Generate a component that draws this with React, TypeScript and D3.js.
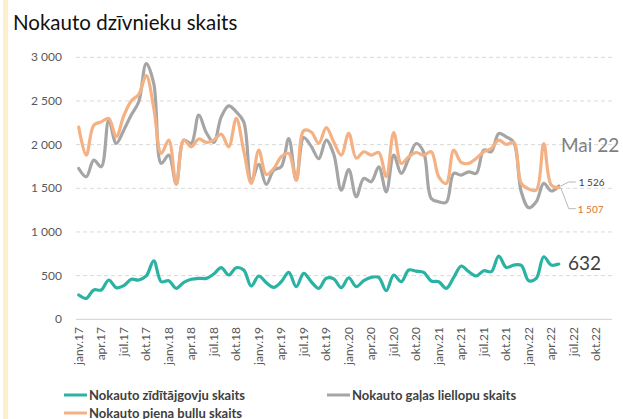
import React, { useEffect, useRef } from 'react';
import * as d3 from 'd3';

// months janv.17 .. dec.22 on the axis, data up to Mai 22
const years = [17, 18, 19, 20, 21, 22];
const monthNames = ['janv.', 'feb.', 'marts', 'apr.', 'maijs', 'jūn.', 'jūl.', 'aug.', 'sept.', 'okt.', 'nov.', 'dec.'];
const yTicks = [0, 500, 1000, 1500, 2000, 2500, 3000];

// Nokauto zīdītājgovju skaits
const sucklerCows = [
  278, 240, 336, 336, 450, 362, 385, 458, 450, 496, 670, 430,
  442, 355, 423, 458, 469, 469, 519, 591, 507, 591, 564, 381,
  496, 420, 366, 430, 537, 374, 526, 430, 355, 470, 462, 362,
  476, 374, 442, 480, 480, 327, 507, 430, 564, 552, 537, 438,
  430, 355, 480, 610, 545, 496, 556, 545, 724, 594, 621, 617,
  442, 469, 716, 621, 632,
];

// Nokauto gaļas liellopu skaits
const beefCattle = [
  1727, 1632, 1823, 1747, 2281, 2014, 2166, 2338, 2491, 2929, 2700, 1785,
  1880, 1548, 2052, 2014, 2337, 2139, 2025, 2318, 2444, 2376, 2261, 1582,
  1773, 1544, 1708, 1746, 2070, 1594, 2080, 1980, 1840, 2052, 1890, 1480,
  1715, 1403, 1613, 1575, 1746, 1460, 1880, 1670, 1842, 2013, 1910, 1384,
  1346, 1340, 1670, 1651, 1689, 1670, 1937, 1918, 2128, 2090, 2025, 1460,
  1277, 1346, 1556, 1469, 1526,
];

// Nokauto piena bullu skaits
const dairyBulls = [
  2200, 1880, 2222, 2261, 2300, 2090, 2330, 2500, 2575, 2790, 2420, 1899,
  2052, 1550, 2052, 1975, 2065, 2025, 2052, 2120, 1975, 2300, 1930, 1556,
  1937, 1659, 1727, 1861, 1899, 1594, 2160, 2145, 2015, 2195, 2030, 1880,
  2130, 1845, 1918, 1880, 1910, 1632, 2139, 1785, 1861, 1910, 1880, 1918,
  1632, 1556, 1937, 1796, 1785, 1842, 1918, 1956, 2052, 2003, 2025, 1556,
  1491, 1480, 2013, 1537, 1507,
];

const months: string[] = [];
years.forEach((y) => monthNames.forEach((m) => months.push(`${m}${y}`)));

const series = [
  { name: 'Nokauto zīdītājgovju skaits', values: sucklerCows, color: '#2ab3a3' },
  { name: 'Nokauto gaļas liellopu skaits', values: beefCattle, color: '#a5a5a5' },
  { name: 'Nokauto piena bullu skaits', values: dairyBulls, color: '#f4b183' },
];

const W = 623;
const H = 419;
const font = 'Lato, "Noto Sans", sans-serif';

const Chart = () => {
  const ref = useRef<SVGSVGElement>(null);

  useEffect(() => {
    const svg = d3.select(ref.current);
    svg.selectAll('*').remove();

    // yellow side stripe
    svg.append('rect').attr('x', 3).attr('y', 0).attr('width', 5).attr('height', H).attr('fill', '#fdf0c9');

    svg.append('text')
      .attr('x', 13).attr('y', 30)
      .attr('font-family', font).attr('font-size', 20.5)
      .attr('fill', '#111')
      .text('Nokauto dzīvnieku skaits');

    const x = d3.scaleBand().domain(months).range([75, 615]);
    const y = d3.scaleLinear().domain([0, 3000]).range([319.3, 57.3]);
    const cx = (m: string) => (x(m) as number) + x.bandwidth() / 2;

    const fmt = d3.formatLocale({ thousands: ' ', grouping: [3], decimal: ',', currency: ['', ''] }).format(',');

    // grid
    svg.append('g')
      .selectAll('line')
      .data(yTicks.filter((t) => t > 0))
      .join('line')
      .attr('x1', 76).attr('x2', 612)
      .attr('y1', (d) => y(d)).attr('y2', (d) => y(d))
      .attr('stroke', '#d9d9d9').attr('stroke-dasharray', '4 3');

    svg.append('line')
      .attr('x1', 76).attr('x2', 612)
      .attr('y1', y(0)).attr('y2', y(0))
      .attr('stroke', '#d9d9d9').attr('stroke-width', 1.2);

    svg.append('g')
      .selectAll('text')
      .data(yTicks)
      .join('text')
      .attr('x', 62).attr('y', (d) => y(d) + 4)
      .attr('text-anchor', 'end')
      .attr('font-family', font).attr('font-size', 12)
      .attr('fill', '#595959')
      .text((d) => fmt(d));

    // x labels every 3 months
    svg.append('g')
      .selectAll('text')
      .data(months.filter((_, i) => i % 3 === 0))
      .join('text')
      .attr('transform', (d) => `translate(${cx(d) + 4},327) rotate(-90)`)
      .attr('text-anchor', 'end')
      .attr('font-family', font).attr('font-size', 12)
      .attr('fill', '#595959')
      .text((d) => d);

    const line = d3.line<number>()
      .x((_, i) => cx(months[i]))
      .y((d) => y(d))
      .curve(d3.curveCatmullRom.alpha(0.5));

    series.forEach((s) => {
      svg.append('path')
        .datum(s.values)
        .attr('d', line)
        .attr('fill', 'none')
        .attr('stroke', s.color)
        .attr('stroke-width', 3.2)
        .attr('stroke-linejoin', 'round')
        .attr('stroke-linecap', 'round');
    });

    // end annotations
    const last = sucklerCows.length - 1;
    const lx = cx(months[last]);
    svg.append('text')
      .attr('x', 561).attr('y', y(1980) + 6)
      .attr('font-family', font).attr('font-size', 19)
      .attr('fill', '#7f7f7f')
      .text('Mai 22');
    svg.append('text')
      .attr('x', 568).attr('y', y(sucklerCows[last]) + 6)
      .attr('font-family', font).attr('font-size', 19)
      .attr('fill', '#404040')
      .text(fmt(sucklerCows[last]));

    const gy = y(beefCattle[last]);
    svg.append('path')
      .attr('d', `M${lx + 2},${gy} L${lx + 10},${gy - 4} L${lx + 17},${gy - 4}`)
      .attr('fill', 'none').attr('stroke', '#a6a6a6').attr('stroke-width', 0.8);
    svg.append('text')
      .attr('x', lx + 20).attr('y', gy)
      .attr('font-family', font).attr('font-size', 10)
      .attr('fill', '#404040')
      .text(fmt(beefCattle[last]));

    const oy = y(dairyBulls[last]);
    svg.append('path')
      .attr('d', `M${lx + 2},${oy} L${lx + 10},${oy + 21} L${lx + 17},${oy + 21}`)
      .attr('fill', 'none').attr('stroke', '#a6a6a6').attr('stroke-width', 0.8);
    svg.append('text')
      .attr('x', lx + 19).attr('y', oy + 25)
      .attr('font-family', font).attr('font-size', 10)
      .attr('fill', '#d9742c')
      .text(fmt(dairyBulls[last]));

    // legend
    const legendPos = [
      { x: 64, y: 395 },
      { x: 327, y: 395 },
      { x: 64, y: 413 },
    ];
    series.forEach((s, i) => {
      const p = legendPos[i];
      svg.append('line')
        .attr('x1', p.x).attr('x2', p.x + 23)
        .attr('y1', p.y).attr('y2', p.y)
        .attr('stroke', s.color).attr('stroke-width', 3);
      svg.append('text')
        .attr('x', p.x + 25).attr('y', p.y + 5)
        .attr('font-family', font).attr('font-size', 13).attr('font-weight', 700)
        .attr('fill', '#404040')
        .text(s.name);
    });
  }, []);

  return <svg ref={ref} width={W} height={H} style={{ position: 'absolute', left: 0, top: 0, background: '#fff' }} />;
};

export default function App() {
  return <Chart />;
}
